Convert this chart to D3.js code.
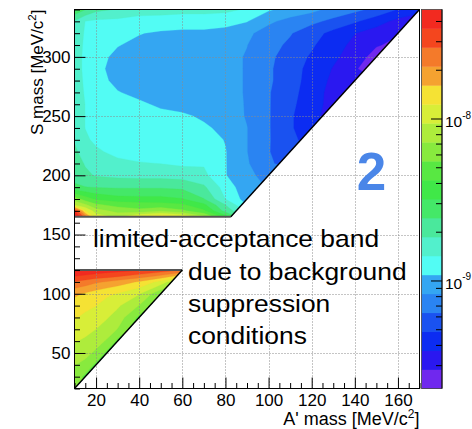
<!DOCTYPE html>
<html>
<head>
<meta charset="utf-8">
<script src="https://cdn.jsdelivr.net/npm/d3@7"></script>
<style>
  html, body { margin: 0; padding: 0; background: #fff; }
  svg { display: block; }
  text { font-family: "Liberation Sans", Arial, Helvetica, sans-serif; fill: #000; }
</style>
</head>
<body>
<svg id="chart" width="472" height="429"></svg>
<script>
// ---------------- data ----------------
const aMassDomain = [10, 170];          // A' mass [MeV/c^2]
const sMassDomain = [20, 340];          // S mass [MeV/c^2]
const aMassTicks = [20, 40, 60, 80, 100, 120, 140, 160];
const sMassTicks = [50, 100, 150, 200, 250, 300];
const logZRange = [-9.667, -7.327];     // colour axis limits, log10
const logZDecades = [-9, -8];
const nLevels = 20;
const limitedBand = [120, 165];         // S mass range with limited acceptance
const noteLines = ["limited-acceptance band", "due to background", "suppression", "conditions"];
const panelLabel = "2";

// upper region (S mass above the band): log10 of the mapped quantity
// rows follow upperSMass, columns follow upperAMass; rows stop at the kinematic edge
const upperAMass = [10, 15, 20, 30, 40, 50, 60, 70, 80, 90, 100, 110, 120, 130, 140, 150, 160, 170];
const upperSMass = [340, 330, 320, 310, 300, 290, 280, 270, 260, 250, 240, 230, 220, 210, 200, 190, 180, 175, 170, 165];
const upperLogZ = [
  [-8.52, -8.61, -8.70, -8.74, -8.79, -8.80, -8.81, -8.81, -8.82, -8.86, -8.95, -9.01, -9.05, -9.12, -9.17, -9.23, -9.32, -9.40],
  [-8.74, -8.85, -8.87, -8.88, -8.90, -8.90, -8.91, -8.91, -8.92, -8.96, -9.06, -9.12, -9.17, -9.23, -9.30, -9.38, -9.47, -9.50],
  [-8.78, -8.86, -8.90, -8.92, -8.96, -8.98, -8.99, -8.99, -9.01, -9.06, -9.13, -9.19, -9.27, -9.35, -9.43, -9.49, -9.54, -9.54],
  [-8.78, -8.87, -8.91, -8.96, -8.99, -9.01, -9.01, -9.02, -9.04, -9.08, -9.16, -9.22, -9.30, -9.39, -9.46, -9.54, -9.58],
  [-8.78, -8.88, -8.93, -8.99, -9.01, -9.02, -9.02, -9.03, -9.05, -9.09, -9.17, -9.26, -9.33, -9.41, -9.49, -9.60],
  [-8.78, -8.88, -8.94, -9.00, -9.02, -9.02, -9.03, -9.04, -9.05, -9.09, -9.18, -9.27, -9.35, -9.44, -9.54, -9.61],
  [-8.78, -8.87, -8.93, -8.99, -9.01, -9.02, -9.03, -9.04, -9.05, -9.09, -9.18, -9.27, -9.36, -9.46, -9.55],
  [-8.78, -8.86, -8.91, -8.96, -8.99, -9.01, -9.02, -9.03, -9.05, -9.09, -9.19, -9.28, -9.37, -9.48, -9.53],
  [-8.77, -8.85, -8.89, -8.92, -8.95, -8.98, -9.00, -9.02, -9.04, -9.09, -9.19, -9.29, -9.38, -9.48],
  [-8.77, -8.85, -8.88, -8.91, -8.93, -8.94, -8.95, -8.98, -9.03, -9.09, -9.19, -9.30, -9.40, -9.48],
  [-8.77, -8.85, -8.88, -8.91, -8.92, -8.93, -8.94, -8.95, -8.99, -9.08, -9.19, -9.30, -9.40],
  [-8.74, -8.83, -8.87, -8.89, -8.90, -8.91, -8.91, -8.92, -8.97, -9.08, -9.19, -9.29, -9.36],
  [-8.71, -8.78, -8.83, -8.88, -8.90, -8.90, -8.91, -8.92, -8.96, -9.08, -9.19, -9.31],
  [-8.68, -8.74, -8.78, -8.82, -8.84, -8.85, -8.87, -8.86, -8.96, -9.07, -9.18, -9.25],
  [-8.66, -8.71, -8.74, -8.76, -8.77, -8.77, -8.78, -8.82, -8.96, -9.05, -9.13],
  [-8.59, -8.61, -8.62, -8.63, -8.63, -8.63, -8.64, -8.71, -8.90, -9.04, -9.09],
  [-8.20, -8.32, -8.40, -8.45, -8.46, -8.46, -8.49, -8.61, -8.85, -9.02],
  [-8.03, -8.12, -8.24, -8.30, -8.32, -8.33, -8.36, -8.47, -8.73, -8.97],
  [-7.44, -7.91, -8.09, -8.19, -8.23, -8.17, -8.24, -8.36, -8.66, -8.87],
  [-7.27, -7.62, -7.97, -8.05, -7.89, -7.82, -7.89, -8.12, -8.44, -8.79]
];

// lower region (S mass below the band)
const lowerAMass = [10, 15, 20, 25, 30, 40, 50, 60];
const lowerSMass = [120, 115, 110, 100, 90, 80, 70, 60, 50, 40, 30, 20];
const lowerLogZ = [
  [-7.35, -7.36, -7.37, -7.39, -7.40, -7.43, -7.49, -7.56],
  [-7.44, -7.46, -7.49, -7.51, -7.54, -7.61, -7.70, -7.85],
  [-7.57, -7.61, -7.66, -7.69, -7.73, -7.81, -7.96, -8.20],
  [-7.77, -7.81, -7.85, -7.89, -7.92, -8.02, -8.24],
  [-7.85, -7.88, -7.91, -7.96, -8.01, -8.15, -8.38],
  [-7.90, -7.94, -7.97, -8.02, -8.08, -8.29],
  [-7.96, -7.99, -8.03, -8.08, -8.15, -8.38],
  [-8.02, -8.05, -8.10, -8.16, -8.29],
  [-8.08, -8.11, -8.17, -8.29],
  [-8.14, -8.18, -8.29],
  [-8.20, -8.29],
  [-8.26]
];

// ---------------- layout & scales ----------------
const svg = d3.select("#chart");
const plot = { left: 74.5, right: 419.5, top: 9.5, bottom: 388.5 };
const bar = { left: 421.5, right: 442 };

const x = d3.scaleLinear(aMassDomain, [plot.left, plot.right]);
const y = d3.scaleLinear(sMassDomain, [plot.bottom, plot.top]);
const zY = d3.scaleLinear(logZRange, [plot.bottom, plot.top]);

// violet-to-red contour palette, lowest level first
const levelColor = [
  "#7028ee", "#2a18f0", "#0c2cf2", "#1a52f0", "#2a84f2",
  "#34a6f2", "#52fcf4", "#52f0cc", "#4ae89c", "#44e868",
  "#40e848", "#58e842", "#88ea3e", "#aeec3c", "#d8ee38",
  "#f5e234", "#f5a230", "#f47a2a", "#f4461e", "#f22a20"
];
const dz = (logZRange[1] - logZRange[0]) / nLevels;
const levelEdges = d3.range(nLevels).map(k => logZRange[0] + k * dz);

// kinematic limit: m_S = 2 m_A'
const edgeA = s => s / 2;
const upperOutline = [[aMassDomain[0], limitedBand[1]], [edgeA(limitedBand[1]), limitedBand[1]],
  [edgeA(sMassDomain[1]), sMassDomain[1]], [aMassDomain[0], sMassDomain[1]]];
const lowerOutline = [[aMassDomain[0], 2 * aMassDomain[0]], [edgeA(limitedBand[0]), limitedBand[0]],
  [aMassDomain[0], limitedBand[0]]];

const defs = svg.append("defs");
const toPx = pts => pts.map(([a, s]) => [x(a), y(s)]);

function drawRegion(id, aMass, sMass, rows, outline) {
  const nx = aMass.length, ny = sMass.length;
  const grid = [];
  rows.forEach(r => { for (let i = 0; i < nx; i++) grid.push(r[Math.min(i, r.length - 1)]); });
  const ia = d3.scaleLinear(aMass.map((_, i) => i + 0.5), aMass);
  const is = d3.scaleLinear(sMass.map((_, j) => j + 0.5), sMass);
  const path = d3.geoPath(d3.geoTransform({
    point(px, py) { this.stream.point(x(ia(px)), y(is(py))); }
  }));
  const thresholds = levelEdges.map((t, k) => k === 0 ? t - 5 : t);
  const bands = d3.contours().size([nx, ny]).thresholds(thresholds)(grid);

  defs.append("clipPath").attr("id", id)
    .append("path").attr("d", d3.line()(toPx(outline)) + "Z");
  svg.append("g").attr("clip-path", `url(#${id})`)
    .selectAll("path").data(bands).join("path")
    .attr("d", path)
    .attr("fill", (d, k) => levelColor[k])
    .attr("stroke", (d, k) => levelColor[k])
    .attr("stroke-width", 0.3);
}

drawRegion("clip-upper", upperAMass, upperSMass, upperLogZ, upperOutline);
drawRegion("clip-lower", lowerAMass, lowerSMass, lowerLogZ, lowerOutline);

// dotted grid
const grid = svg.append("g").attr("stroke", "#8a8a8a").attr("stroke-width", 1)
  .attr("stroke-dasharray", "1,2");
grid.selectAll(".gx").data(aMassTicks).join("line")
  .attr("x1", d => Math.round(x(d)) + 0.5).attr("x2", d => Math.round(x(d)) + 0.5)
  .attr("y1", plot.top).attr("y2", plot.bottom);
grid.selectAll(".gy").data(sMassTicks).join("line")
  .attr("y1", d => Math.round(y(d)) + 0.5).attr("y2", d => Math.round(y(d)) + 0.5)
  .attr("x1", plot.left).attr("x2", plot.right);

// acceptance edges
const edges = svg.append("g").attr("fill", "none");
edges.append("path").attr("d", d3.line()(toPx([upperOutline[0], upperOutline[1]])))
  .attr("stroke", "#555").attr("stroke-width", 2);
edges.append("path").attr("d", d3.line()(toPx([lowerOutline[2], lowerOutline[1]])))
  .attr("stroke", "#555").attr("stroke-width", 2);
edges.append("path").attr("d", d3.line()(toPx([upperOutline[1], upperOutline[2]])))
  .attr("stroke", "#000").attr("stroke-width", 1.4);
edges.append("path").attr("d", d3.line()(toPx([lowerOutline[0], lowerOutline[1]])))
  .attr("stroke", "#000").attr("stroke-width", 1.4);

// axes (ticks drawn inside the frame)
const minorX = d3.range(aMassDomain[0], aMassDomain[1] + 0.1, 5).filter(v => !aMassTicks.includes(v));
const minorY = d3.range(sMassDomain[0], sMassDomain[1] + 0.1, 10).filter(v => !sMassTicks.includes(v));
function styleAxis(g) {
  g.select(".domain").remove();
  g.attr("font-family", null).attr("font-size", null);
  g.selectAll("line").attr("stroke", "#000");
  g.selectAll("text").style("font-size", "17px");
}
svg.append("g").attr("transform", `translate(0,${plot.bottom})`)
  .call(d3.axisBottom(x).tickValues(minorX).tickSize(-5.5).tickFormat("")).call(styleAxis);
svg.append("g").attr("transform", `translate(0,${plot.bottom})`)
  .call(d3.axisBottom(x).tickValues(aMassTicks).tickSize(-11).tickPadding(5)).call(styleAxis);
svg.append("g").attr("transform", `translate(${plot.left},0)`)
  .call(d3.axisLeft(y).tickValues(minorY).tickSize(-5.5).tickFormat("")).call(styleAxis);
svg.append("g").attr("transform", `translate(${plot.left},0)`)
  .call(d3.axisLeft(y).tickValues(sMassTicks).tickSize(-11).tickPadding(4)).call(styleAxis);

svg.append("rect").attr("x", plot.left).attr("y", plot.top)
  .attr("width", plot.right - plot.left).attr("height", plot.bottom - plot.top)
  .attr("fill", "none").attr("stroke", "#000").attr("stroke-width", 1);

// axis titles
const xTitle = svg.append("text").attr("x", plot.right).attr("y", 425)
  .attr("text-anchor", "end").style("font-size", "18px");
xTitle.append("tspan").text("A' mass [MeV/c");
xTitle.append("tspan").attr("dy", -7).style("font-size", "12px").text("2");
xTitle.append("tspan").attr("dy", 7).text("]");

const yTitle = svg.append("text").attr("transform", `translate(43,${plot.top}) rotate(-90)`)
  .attr("text-anchor", "end").style("font-size", "17px");
yTitle.append("tspan").text("S mass [MeV/c");
yTitle.append("tspan").attr("dy", -7).style("font-size", "11.5px").text("2");
yTitle.append("tspan").attr("dy", 7).text("]");

// colour scale
const barG = svg.append("g");
barG.selectAll("rect").data(levelColor).join("rect")
  .attr("x", bar.left).attr("width", bar.right - bar.left)
  .attr("y", (c, k) => zY(levelEdges[k] + dz))
  .attr("height", zY(levelEdges[0]) - zY(levelEdges[0] + dz) + 0.4)
  .attr("fill", c => c);
barG.append("rect").attr("x", bar.left).attr("y", plot.top)
  .attr("width", bar.right - bar.left).attr("height", plot.bottom - plot.top)
  .attr("fill", "none").attr("stroke", "#444").attr("stroke-width", 0.8);

const minorZ = [];
d3.range(-10, -7).forEach(e => d3.range(2, 10).forEach(m => {
  const v = Math.log10(m) + e;
  if (v > logZRange[0] && v < logZRange[1]) minorZ.push(v);
}));
barG.append("g").attr("transform", `translate(${bar.right},0)`)
  .call(d3.axisRight(zY).tickValues(minorZ).tickSize(-6).tickFormat("")).call(styleAxis);
barG.append("g").attr("transform", `translate(${bar.right},0)`)
  .call(d3.axisRight(zY).tickValues(logZDecades).tickSize(-11).tickFormat("")).call(styleAxis);
barG.append("line").attr("x1", bar.right).attr("x2", bar.right)
  .attr("y1", plot.top).attr("y2", plot.bottom).attr("stroke", "#000");

const zLabels = barG.selectAll(".zl").data(logZDecades).join("text")
  .attr("x", 445).attr("y", d => zY(d) + 8.2).style("font-size", "15.5px");
zLabels.append("tspan").text("10");
zLabels.append("tspan").attr("dy", -8.2).style("font-size", "10px").text(d => String(d));

// annotations
const noteX = [93, 188, 188, 188];
const noteY = [247, 279.5, 311.5, 343.5];
svg.append("g").selectAll("text").data(noteLines).join("text")
  .attr("transform", (d, i) => `translate(${noteX[i]},${noteY[i]}) scale(1.1,1)`)
  .style("font-size", "24px").text(d => d);

svg.append("text").attr("x", 371.5).attr("y", 190).attr("text-anchor", "middle")
  .style("font-size", "53px").attr("font-weight", "bold").style("fill", "#4a86e8")
  .text(panelLabel);
</script>
</body>
</html>
